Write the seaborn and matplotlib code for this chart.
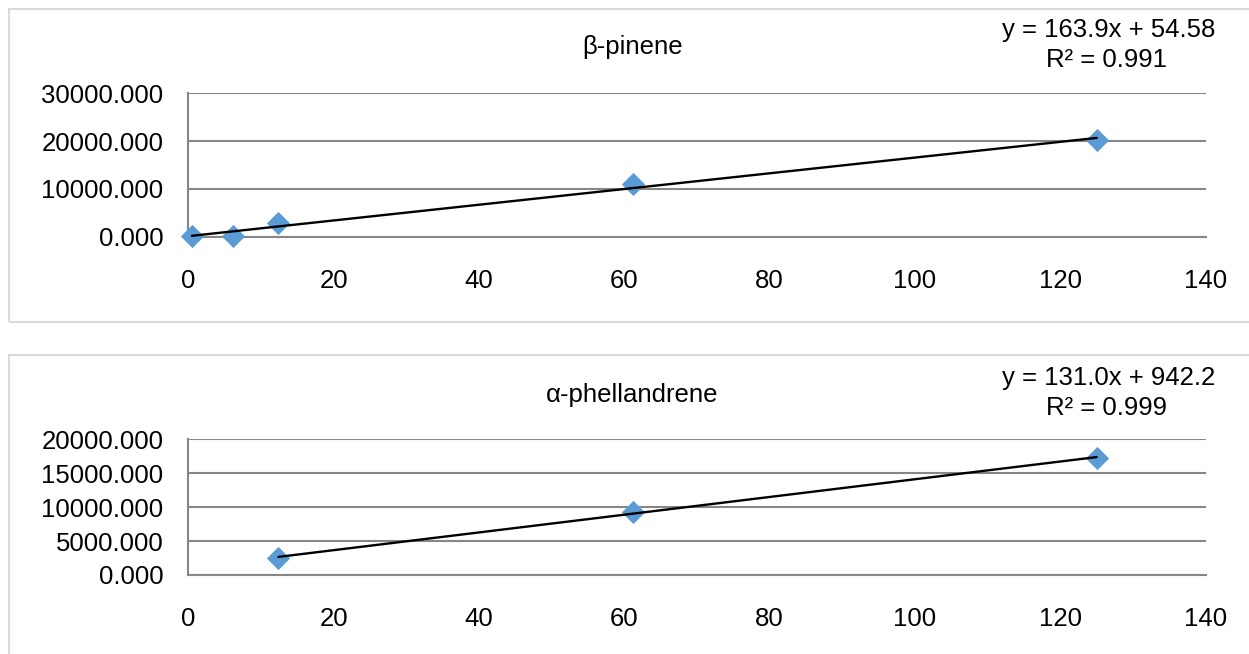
import numpy as np
import pandas as pd
import seaborn as sns
import matplotlib.pyplot as plt
from matplotlib.patches import Rectangle

# ---- data ----
pinene_conc = [0.5, 6.1, 12.4, 61.2, 125.0]
pinene_area = [60, 80, 2930, 10970, 20250]
pinene_eq = "y = 163.9x + 54.58"
pinene_r2 = "R² = 0.991"

phell_conc = [12.4, 61.2, 125.0]
phell_area = [2550, 9250, 17290]
phell_eq = "y = 131.0x + 942.2"
phell_r2 = "R² = 0.999"

x_ticks = [0, 20, 40, 60, 80, 100, 120, 140]
pinene_yticks = [0, 10000, 20000, 30000]
phell_yticks = [0, 5000, 10000, 15000, 20000]

sns.set_theme(style="white")
plt.rcParams['font.family'] = ['Liberation Sans', 'DejaVu Sans']
plt.rcParams['text.color'] = 'black'

FS = 18.5
GRID = '#878787'
MARK = '#5B9BD5'

fig = plt.figure(figsize=(12.49, 6.54), dpi=100)

# panel borders
fig.add_artist(Rectangle((9/1249, 1-322/654), 1.0, (322-9)/654, transform=fig.transFigure,
                         fill=False, edgecolor='#D9D9D9', linewidth=1.5))
fig.add_artist(Rectangle((9/1249, -0.1), 1.0, (654-355)/654+0.1, transform=fig.transFigure,
                         fill=False, edgecolor='#D9D9D9', linewidth=1.5))

def draw(ax, xs, ys, yticks, title, eq, r2, title_y, eq_y, r2_y):
    df = pd.DataFrame({'conc': xs, 'area': ys})
    coef = np.polyfit(xs, ys, 1)
    fit = pd.DataFrame({'conc': [min(xs), max(xs)]})
    fit['area'] = np.polyval(coef, fit['conc'])
    sns.scatterplot(data=df, x='conc', y='area', ax=ax, marker='D', s=140,
                    color=MARK, edgecolor=MARK, linewidth=0, zorder=3, clip_on=False)
    sns.lineplot(data=fit, x='conc', y='area', ax=ax, color='black', linewidth=1.7,
                 zorder=4, clip_on=False)
    ax.set_xlim(0, 140)
    ax.set_ylim(yticks[0], yticks[-1])
    ax.set_xticks(x_ticks)
    ax.set_xticklabels([str(t) for t in x_ticks], fontsize=FS, color='black')
    ax.set_yticks(yticks)
    ax.set_yticklabels([f"{t:.3f}" for t in yticks], fontsize=FS, color='black')
    ax.set_xlabel('')
    ax.set_ylabel('')
    ax.yaxis.grid(True, color=GRID, linewidth=1.5)
    ax.xaxis.grid(False)
    ax.set_axisbelow(True)
    for s in ['top', 'right']:
        ax.spines[s].set_visible(False)
    for s in ['left', 'bottom']:
        ax.spines[s].set_color(GRID)
        ax.spines[s].set_linewidth(1.5)
        ax.spines[s].set_zorder(1)
    ax.tick_params(axis='both', which='both', direction='out', length=6, width=1.5,
                   color=GRID, labelcolor='black')
    ax.tick_params(axis='x', pad=17)
    ax.tick_params(axis='y', pad=12)
    ax.set_facecolor('white')
    fig.text(632.5/1249, 1-title_y/654, title, ha='center', va='center', fontsize=FS, color='black')
    fig.text(1109/1249, 1-eq_y/654, eq, ha='center', va='center', fontsize=FS, color='black')
    fig.text(1107/1249, 1-r2_y/654, r2, ha='center', va='center', fontsize=FS, color='black')

left = 188.3/1249
width = (1205.7-188.3)/1249
ax1 = fig.add_axes([left, 1-236.7/654, width, (236.7-93.3)/654])
draw(ax1, pinene_conc, pinene_area, pinene_yticks, "β-pinene", pinene_eq, pinene_r2, 47, 30, 60)
ax2 = fig.add_axes([left, 1-575/654, width, (575-439.3)/654])
draw(ax2, phell_conc, phell_area, phell_yticks, "α-phellandrene", phell_eq, phell_r2, 395, 378, 408)

fig.savefig('out.png', dpi=100, facecolor='white')
